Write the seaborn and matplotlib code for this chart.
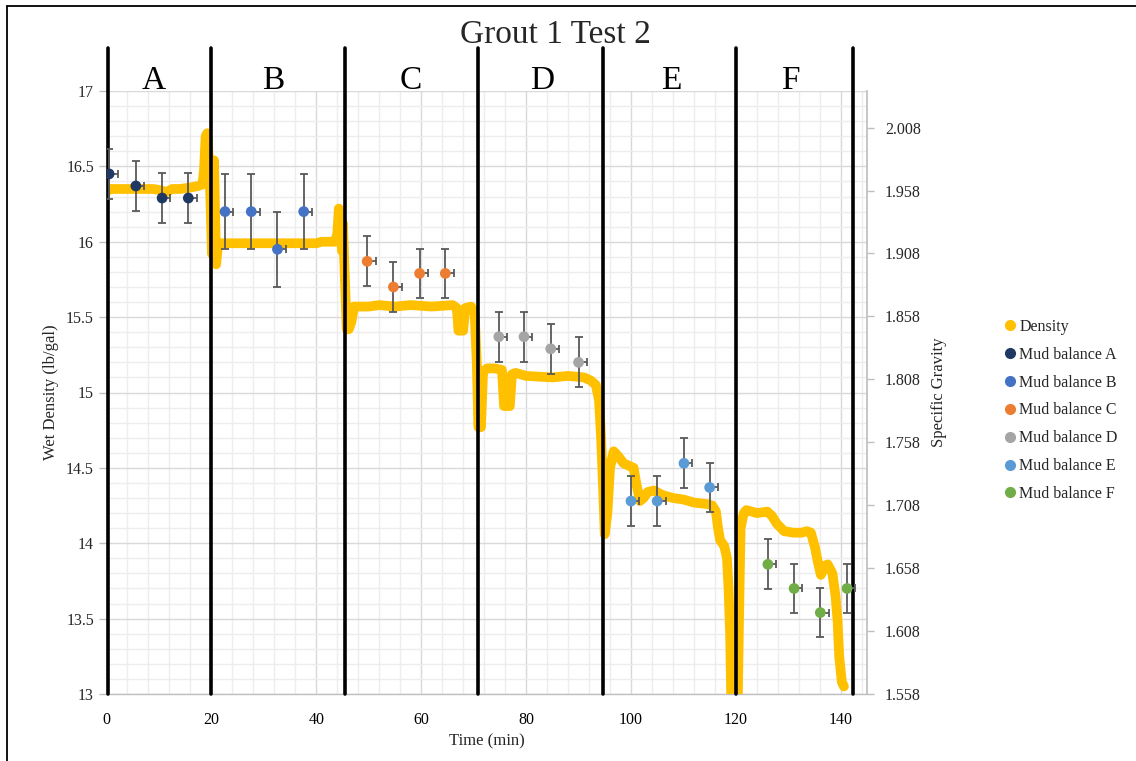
import numpy as np
import pandas as pd
import matplotlib
matplotlib.use("Agg")
import matplotlib.pyplot as plt
from matplotlib.lines import Line2D
from matplotlib.ticker import MultipleLocator, FuncFormatter, FixedLocator
import seaborn as sns

# ---------------- data ----------------
density_t = [0.0, 0.5, 3.0, 6.0, 9.0, 10.5, 11.5, 12.5, 14.0, 16.0, 17.5, 18.3,
             18.6, 18.9, 19.2, 19.5, 19.8, 20.1, 20.5, 20.9, 21.3, 24.0, 28.0,
             32.0, 36.0, 40.0, 41.0, 42.0, 43.5, 44.0, 44.3, 44.6, 44.9, 45.1,
             45.4, 45.8, 46.2, 46.7, 47.2, 50.0, 52.0, 55.0, 58.0, 62.0, 66.0,
             66.8, 67.1, 68.0, 68.4, 69.5, 70.2, 70.6, 70.9, 71.4, 71.8, 72.6,
             74.0, 75.4, 75.8, 76.9, 77.3, 78.0, 80.0, 85.0, 88.0, 91.0, 92.3,
             93.3, 93.9, 94.3, 94.7, 95.0, 95.5, 96.0, 96.7, 97.5, 98.6, 100.5,
             101.0, 101.7, 102.4, 103.2, 104.4, 106.0, 108.0, 110.0, 112.0,
             114.5, 115.5, 116.2, 116.6, 117.0, 117.8, 118.3, 118.6, 118.9,
             119.2, 120.3, 120.6, 120.9, 121.5, 122.0, 124.0, 126.0, 126.9,
             127.8, 129.2, 131.0, 132.5, 133.5, 134.3, 135.1, 135.6, 136.2,
             137.0, 137.5, 138.4, 139.0, 139.4, 139.7, 140.2, 140.6]
density_v = [16.33, 16.35, 16.35, 16.35, 16.35, 16.34, 16.33, 16.35, 16.35,
             16.36, 16.37, 16.38, 16.48, 16.70, 16.72, 16.55, 16.30, 15.92,
             16.54, 15.85, 15.99, 15.99, 15.99, 15.99, 15.99, 15.99, 16.00,
             16.00, 16.00, 16.05, 16.22, 16.10, 15.94, 16.12, 15.80, 15.42,
             15.42, 15.47, 15.57, 15.57, 15.58, 15.57, 15.58, 15.57, 15.58,
             15.56, 15.41, 15.41, 15.56, 15.57, 15.52, 15.20, 14.77, 14.77,
             15.14, 15.16, 15.16, 15.15, 14.91, 14.91, 15.12, 15.13, 15.11,
             15.10, 15.11, 15.10, 15.08, 15.05, 14.95, 14.70, 14.35, 14.06,
             14.20, 14.50, 14.61, 14.58, 14.53, 14.50, 14.40, 14.28, 14.30,
             14.34, 14.35, 14.32, 14.30, 14.29, 14.27, 14.26, 14.25, 14.21,
             14.10, 14.02, 13.98, 13.90, 13.70, 13.40, 12.80, 12.80, 13.50,
             14.10, 14.20, 14.22, 14.20, 14.21, 14.18, 14.13, 14.08, 14.07,
             14.07, 14.08, 14.07, 13.97, 13.88, 13.79, 13.85, 13.86, 13.80,
             13.65, 13.48, 13.25, 13.08, 13.05]

mud_t = {
    "A": [0.5, 5.6, 10.6, 15.6],
    "B": [22.6, 27.6, 32.6, 37.6],
    "C": [49.7, 54.7, 59.7, 64.6],
    "D": [74.8, 79.6, 84.7, 90.0],
    "E": [100.0, 105.0, 110.1, 115.0],
    "F": [126.1, 131.1, 136.1, 141.2],
}
mud_v = {
    "A": [16.45, 16.37, 16.29, 16.29],
    "B": [16.20, 16.20, 15.95, 16.20],
    "C": [15.87, 15.70, 15.79, 15.79],
    "D": [15.37, 15.37, 15.29, 15.20],
    "E": [14.28, 14.28, 14.53, 14.37],
    "F": [13.86, 13.70, 13.54, 13.70],
}
mud_err = {"A": 0.165, "B": 0.25, "C": 0.165, "D": 0.165, "E": 0.165, "F": 0.165}
time_err_right = 1.6

section_letters = ["A", "B", "C", "D", "E", "F"]
section_bounds = [0.3, 20.0, 45.4, 70.8, 94.6, 120.0, 142.4]
letter_shift = [-1.2, -1.0, 0.0, 0.3, 0.3, -0.8]

colors = {"Density": "#FFC000", "A": "#1F3864", "B": "#4472C4", "C": "#ED7D31",
          "D": "#A5A5A5", "E": "#5B9BD5", "F": "#70AD47"}
SG_FACTOR = 8.345
sg_ticks = [1.558, 1.608, 1.658, 1.708, 1.758, 1.808, 1.858, 1.908, 1.958, 2.008]

# ---------------- style ----------------
sns.set_theme(style="white")
plt.rcParams['font.family'] = ['Liberation Serif', 'DejaVu Serif']

W, H = 1136, 761
fig = plt.figure(figsize=(W / 100, H / 100), dpi=100)
L, R, T, B = 106.5, 867, 91, 694
ax = fig.add_axes([L / W, 1 - B / H, (R - L) / W, (B - T) / H])

ax.set_xlim(0, 145)
ax.set_ylim(13, 17)
ax.xaxis.set_major_locator(FixedLocator(list(range(0, 141, 20))))
ax.xaxis.set_minor_locator(MultipleLocator(4))
ax.yaxis.set_major_locator(MultipleLocator(0.5))
ax.yaxis.set_minor_locator(MultipleLocator(0.1))
ax.yaxis.set_major_formatter(FuncFormatter(lambda v, p: f"{v:g}"))
ax.grid(which="major", color="#D9D9D9", lw=1.0, zorder=0)
ax.grid(which="minor", color="#EDEDED", lw=1.0, zorder=0)
ax.set_axisbelow(True)
ax.tick_params(axis="x", which="both", length=0, labelsize=11.5, pad=13, colors="black")
ax.tick_params(axis="y", which="major", length=6, width=1, color="#BFBFBF",
               labelsize=11.5, pad=3, direction="out", left=True)
ax.tick_params(axis="y", which="minor", length=0)
for s in ["top", "right"]:
    ax.spines[s].set_visible(False)
for s in ["left", "bottom"]:
    ax.spines[s].set_color("#BFBFBF")
    ax.spines[s].set_linewidth(1.0)

# density trace
df = pd.DataFrame({"t": density_t, "v": density_v})
sns.lineplot(data=df, x="t", y="v", ax=ax, color=colors["Density"], lw=7.0,
             sort=False, estimator=None, zorder=3,
             solid_capstyle="round", solid_joinstyle="round")

# section boundary lines
for b in section_bounds:
    ax.axvline(b, ymin=0, ymax=1.072, color="black", lw=2.6, clip_on=False, zorder=4)
for i, letter in enumerate(section_letters):
    mid = (section_bounds[i] + section_bounds[i + 1]) / 2 + letter_shift[i]
    ax.text(mid, 1.004, letter, transform=ax.get_xaxis_transform(), ha="center",
            va="baseline", fontsize=24, color="black")

# mud balance points with error bars
for k in section_letters:
    t = np.array(mud_t[k]); v = np.array(mud_v[k])
    ax.errorbar(t, v, yerr=mud_err[k], xerr=[np.zeros_like(t), np.full_like(t, time_err_right)],
                fmt="none", ecolor="#595959", elinewidth=1.3, capsize=3.2,
                capthick=1.3, zorder=5)
    sns.scatterplot(x=t, y=v, ax=ax, color=colors[k], s=60, edgecolor="none",
                    zorder=6, legend=False)

ax.set_xlabel("Time (min)", fontsize=12, labelpad=4)
ax.set_ylabel("Wet Density (lb/gal)", fontsize=12, labelpad=5)

# secondary axis: specific gravity
ax2 = ax.twinx()
ax2.set_ylim(13 / SG_FACTOR, 17 / SG_FACTOR)
ax2.yaxis.set_major_locator(FixedLocator(sg_ticks))
ax2.yaxis.set_major_formatter(FuncFormatter(lambda v, p: f"{v:.3f}"))
ax2.tick_params(axis="y", length=5, width=1, color="#BFBFBF", labelsize=11.5, pad=8)
ax2.grid(False)
for s in ["top", "left", "bottom"]:
    ax2.spines[s].set_visible(False)
ax2.spines["right"].set_color("#BFBFBF")
ax2.set_ylabel("Specific Gravity", fontsize=12, labelpad=7)

# title
fig.text(555 / W, 1 - 43 / H, "Grout 1 Test 2", ha="center", va="baseline", fontsize=24)

# legend
handles = [Line2D([], [], marker="o", ls="none", color=colors["Density"], markersize=7,
                  label="Density")]
for k in section_letters:
    handles.append(Line2D([], [], marker="o", ls="none", color=colors[k], markersize=7,
                          label=f"Mud balance {k}"))
fig.legend(handles=handles, loc="upper left", bbox_to_anchor=(1004 / W, 1 - 319 / H),
           frameon=False, fontsize=11.5, handlelength=0.7, handletextpad=0.25,
           labelspacing=0.74, borderpad=0, borderaxespad=0)

# outer border (left and top edges visible)
fig.add_artist(Line2D([7 / W, 7 / W], [0, 1 - 6 / H], transform=fig.transFigure,
                      color="black", lw=1.3))
fig.add_artist(Line2D([7 / W, 1], [1 - 6 / H, 1 - 6 / H], transform=fig.transFigure,
                      color="black", lw=1.3))

fig.savefig("out.png", dpi=100)
